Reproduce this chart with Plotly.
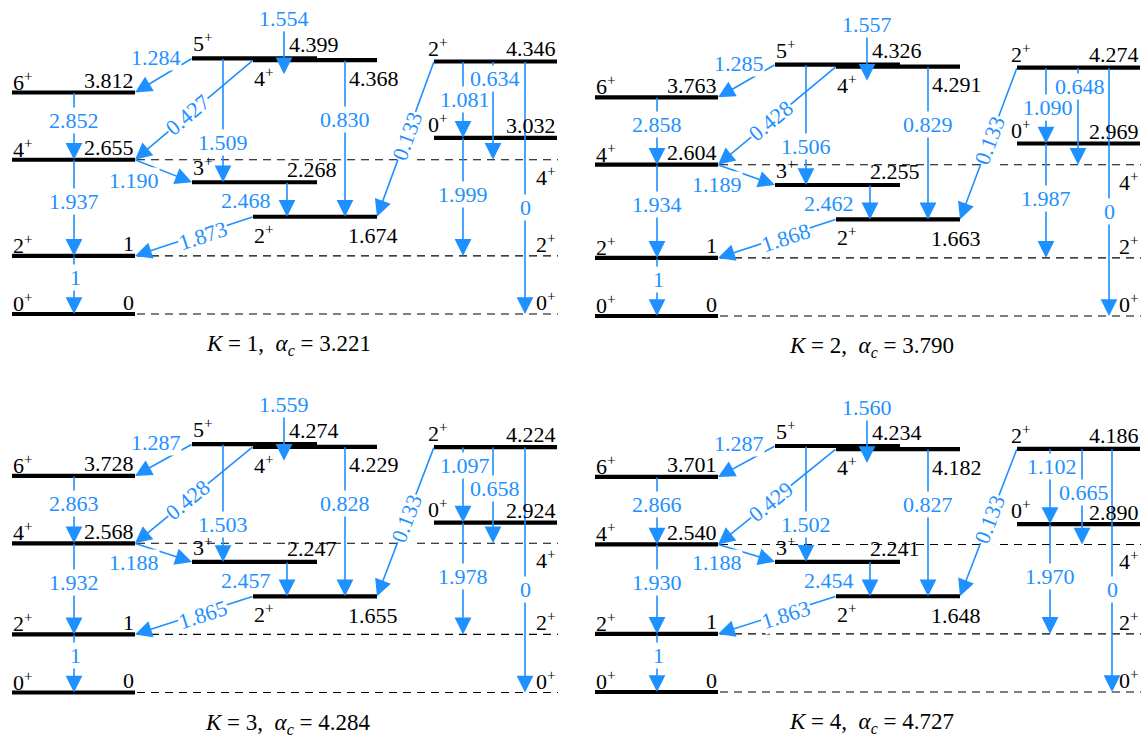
import math
import plotly.graph_objects as go

# ---------------- data ----------------
K_values = [1, 2, 3, 4]
alpha_c = ["3.221", "3.790", "4.284", "4.727"]

ground_spins = [0, 2, 4, 6]
ground_energy = [
    [0, 1, 2.655, 3.812],
    [0, 1, 2.604, 3.763],
    [0, 1, 2.568, 3.728],
    [0, 1, 2.540, 3.701],
]
gamma_spins = [2, 3, 4, 5]
gamma_energy = [
    [1.674, 2.268, 4.368, 4.399],
    [1.663, 2.255, 4.291, 4.326],
    [1.655, 2.247, 4.229, 4.274],
    [1.648, 2.241, 4.182, 4.234],
]
beta_spins = [0, 2]
beta_energy = [
    [3.032, 4.346],
    [2.969, 4.274],
    [2.924, 4.224],
    [2.890, 4.186],
]

transition_names = ["g2-g0", "g4-g2", "g6-g4", "γ5-g6", "γ4-g4", "γ5-γ3", "g4-γ3",
                    "γ3-γ2", "γ2-g2", "γ4-γ2", "γ5-γ4", "β2-γ2", "β2-β0", "β2-g4",
                    "β2-g0", "β0-g2"]
transition_values = [
    [1, 1.937, 2.852, 1.284, 0.427, 1.509, 1.190, 2.468, 1.873, 0.830, 1.554, 0.133, 1.081, 0.634, 0, 1.999],
    [1, 1.934, 2.858, 1.285, 0.428, 1.506, 1.189, 2.462, 1.868, 0.829, 1.557, 0.133, 1.090, 0.648, 0, 1.987],
    [1, 1.932, 2.863, 1.287, 0.428, 1.503, 1.188, 2.457, 1.865, 0.828, 1.559, 0.133, 1.097, 0.658, 0, 1.978],
    [1, 1.930, 2.866, 1.287, 0.429, 1.502, 1.188, 2.454, 1.863, 0.827, 1.560, 0.133, 1.102, 0.665, 0, 1.970],
]

# ---------------- layout / style ----------------
W, H = 1146, 738
S = 58.1  # pixels per energy unit
BLUE = "#1E90FF"
FONT = "Liberation Serif, Times New Roman, serif"
FS = 22

panels = [
    dict(xd=[0, 0.5], yd=[0.5, 1], xoff=0, e0=314),
    dict(xd=[0.5, 1], yd=[0.5, 1], xoff=583, e0=316),
    dict(xd=[0, 0.5], yd=[0, 0.5], xoff=0, e0=692.5),
    dict(xd=[0.5, 1], yd=[0, 0.5], xoff=583, e0=692),
]
beta_arrow_x = [(463, 493, 525), (463, 495, 526), (463, 493, 525), (467, 499, 529)]
beta_label_t = [(0.50, 0.17), (0.52, 0.19), (0.24, 0.43), (0.24, 0.46)]

X_GROUND = (12, 135)
X_GODD = (192, 317)
X_GEVEN = (253, 377)
X_BETA = (434, 557)
X_DASH = (137, 558)


def fmt(v):
    return str(int(v)) if float(v).is_integer() else f"{v:.3f}"


def spin_txt(j):
    return f"{j}<sup>+</sup>"


fig = go.Figure()
annotations = []

for p, pan in enumerate(panels):
    sfx = "" if p == 0 else str(p + 1)
    xr, yr = "x" + sfx, "y" + sfx
    top_px = (1 - pan["yd"][1]) * H
    bot_px = (1 - pan["yd"][0]) * H
    fig.layout["xaxis" + sfx] = dict(domain=pan["xd"], range=[pan["xd"][0] * W - pan["xoff"], pan["xd"][1] * W - pan["xoff"]],
                                     visible=False, anchor=yr, fixedrange=True)
    fig.layout["yaxis" + sfx] = dict(domain=pan["yd"], range=[(pan["e0"] - bot_px) / S, (pan["e0"] - top_px) / S],
                                     visible=False, anchor=xr, fixedrange=True)

    E = {}
    for j, e in zip(ground_spins, ground_energy[p]):
        E[f"g{j}"] = e
    for j, e in zip(gamma_spins, gamma_energy[p]):
        E[f"γ{j}"] = e
    for j, e in zip(beta_spins, beta_energy[p]):
        E[f"β{j}"] = e

    # level lines
    lx, ly = [], []
    for j in ground_spins:
        lx += [X_GROUND[0], X_GROUND[1], None]; ly += [E[f"g{j}"]] * 2 + [None]
    for j in gamma_spins:
        xs = X_GODD if j % 2 else X_GEVEN
        lx += [xs[0], xs[1], None]; ly += [E[f"γ{j}"]] * 2 + [None]
    for j in beta_spins:
        lx += [X_BETA[0], X_BETA[1], None]; ly += [E[f"β{j}"]] * 2 + [None]
    fig.add_trace(go.Scatter(x=lx, y=ly, mode="lines", line=dict(color="black", width=4.2),
                             xaxis=xr, yaxis=yr, hoverinfo="skip", showlegend=False))
    dx_, dy_ = [], []
    for key in ["g0", "g2", "g4"]:
        dx_ += [X_DASH[0], X_DASH[1], None]; dy_ += [E[key]] * 2 + [None]
    fig.add_trace(go.Scatter(x=dx_, y=dy_, mode="lines", line=dict(color="black", width=1.1, dash="8px,6px"),
                             xaxis=xr, yaxis=yr, hoverinfo="skip", showlegend=False))

    bx1, bx2, bx3 = beta_arrow_x[p]
    t_b0, t_b4 = beta_label_t[p]
    # name: (from, to, x_from, x_to, t, dx, dy, rotate)
    geom = {
        "g2-g0": ("g2", "g0", 74, 74, 0.37, 1, 0, False),
        "g4-g2": ("g4", "g2", 74, 74, 0.43, 0, 0, False),
        "g6-g4": ("g6", "g4", 74, 74, 0.41, 0, 0, False),
        "γ5-g6": ("γ5", "g6", 192, 135, 0.5, -8, 18, False),
        "γ4-g4": ("γ4", "g4", 253, 135, 0.55, 0, 0, True),
        "γ5-γ3": ("γ5", "γ3", 223, 223, 0.68, 0, 0, False),
        "g4-γ3": ("g4", "γ3", 135, 192, 0.5, -30, -9.5, False),
        "γ3-γ2": ("γ3", "γ2", 287, 287, 0.54, -41, 0, False),
        "γ2-g2": ("γ2", "g2", 253, 135, 0.42, 0, -2, True),
        "γ4-γ2": ("γ4", "γ2", 345, 345, 0.38, 0, 0, False),
        "β2-γ2": ("β2", "γ2", 434, 377, 0.48, 0, 0, True),
        "β2-β0": ("β2", "β0", bx1, bx1, t_b0, 2, 0, False),
        "β2-g4": ("β2", "g4", bx2, bx2, t_b4, 2, 0, False),
        "β2-g0": ("β2", "g0", bx3, bx3, 0.58, 0, 0, False),
        "β0-g2": ("β0", "g2", bx1, bx1, 0.48, 0, 0, False),
    }
    arrow_style = dict(showarrow=True, arrowhead=2, arrowsize=2.1, arrowwidth=1.6, arrowcolor=BLUE,
                       standoff=0, startstandoff=0, text="", borderpad=0)
    labels = []
    for name, val in zip(transition_names, transition_values[p]):
        if name == "γ5-γ4":
            annotations.append(dict(xref=xr, yref=yr, x=284, y=E["γ4"], yshift=-14, ax=0, ay=-45, **arrow_style))
            labels.append(dict(xref=xr, yref=yr, x=284, y=E["γ4"], yshift=42, text=fmt(val)))
            continue
        a, b, x0, x1, t, ddx, ddy, rot = geom[name]
        e0, e1 = E[a], E[b]
        annotations.append(dict(xref=xr, yref=yr, axref=xr, ayref=yr, x=x1, y=e1, ax=x0, ay=e0, **arrow_style))
        lab = dict(xref=xr, yref=yr, x=x0 + t * (x1 - x0), y=e0 + t * (e1 - e0), xshift=ddx, yshift=ddy, text=fmt(val))
        if rot:
            sdx, sdy = x1 - x0, (e1 - e0) * S
            if sdx < 0:
                sdx, sdy = -sdx, -sdy
            lab["textangle"] = -math.degrees(math.atan2(sdy, sdx))
        labels.append(lab)

    # level labels
    def lvl(x, y, text, anchor, shift):
        annotations.append(dict(xref=xr, yref=yr, x=x, y=y, text=text, xanchor=anchor, yanchor="middle",
                                yshift=shift, showarrow=False, borderpad=0,
                                font=dict(family=FONT, size=FS, color="black")))

    for j in ground_spins:
        lvl(X_GROUND[0], E[f"g{j}"], spin_txt(j), "left", 12)
        lvl(X_GROUND[1], E[f"g{j}"], fmt(E[f"g{j}"]), "right", 12)
    lvl(192, E["γ5"], spin_txt(5), "left", 16)
    lvl(288, E["γ5"], fmt(E["γ5"]), "left", 14)
    lvl(253, E["γ4"], spin_txt(4), "left", -17)
    lvl(348, E["γ4"], fmt(E["γ4"]), "left", -18)
    lvl(192, E["γ3"], spin_txt(3), "left", 16)
    lvl(286, E["γ3"], fmt(E["γ3"]), "left", 13)
    lvl(253, E["γ2"], spin_txt(2), "left", -17)
    lvl(347, E["γ2"], fmt(E["γ2"]), "left", -19)
    lvl(427, E["β2"], spin_txt(2), "left", 15)
    lvl(557, E["β2"], fmt(E["β2"]), "right", 13)
    lvl(427, E["β0"], spin_txt(0), "left", 15)
    lvl(557, E["β0"], fmt(E["β0"]), "right", 12)
    lvl(557, E["g4"], spin_txt(4), "right", -16)
    lvl(557, E["g2"], spin_txt(2), "right", 13)
    lvl(557, E["g0"], spin_txt(0), "right", 13)

    for lab in labels:
        lab.update(showarrow=False, bgcolor="white", borderpad=0, xanchor="center", yanchor="middle",
                   font=dict(family=FONT, size=FS, color=BLUE))
        annotations.append(lab)

    # panel caption
    annotations.append(dict(xref=xr, yref=yr, x=288, y=0, yshift=-31, showarrow=False,
                            text=f"<i>K</i> = {K_values[p]},\u2002<i>α<sub>c</sub></i> = {alpha_c[p]}",
                            font=dict(family=FONT, size=FS + 1, color="black")))

fig.update_layout(width=W, height=H, margin=dict(l=0, r=0, t=0, b=0), paper_bgcolor="white",
                  plot_bgcolor="white", showlegend=False, annotations=annotations)

fig.write_html("out.html", config={"staticPlot": True},
               post_script="document.body.style.margin='0';")
